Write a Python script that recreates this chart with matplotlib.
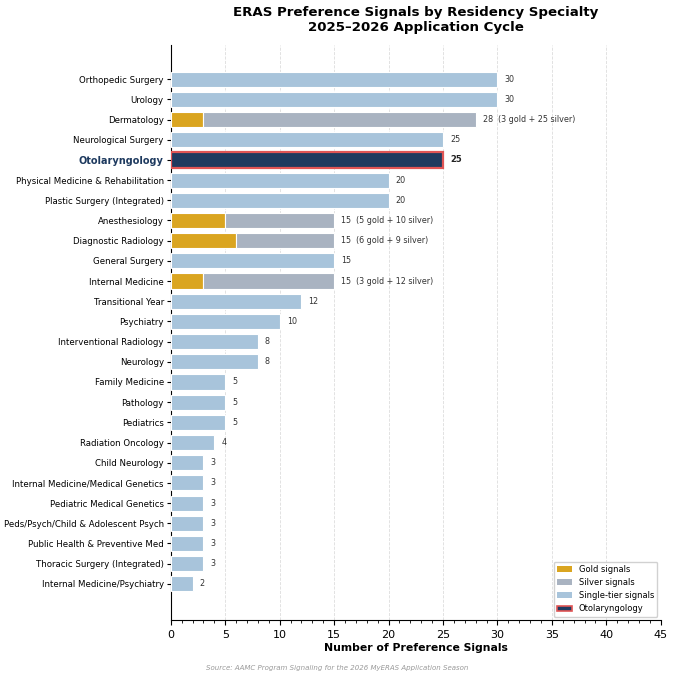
import matplotlib.pyplot as plt
from matplotlib.patches import Patch
from matplotlib.ticker import MultipleLocator
from matplotlib import font_manager

specialties = [
    "Orthopedic Surgery", "Urology", "Dermatology", "Neurological Surgery",
    "Otolaryngology", "Physical Medicine & Rehabilitation", "Plastic Surgery (Integrated)",
    "Anesthesiology", "Diagnostic Radiology", "General Surgery", "Internal Medicine",
    "Transitional Year", "Psychiatry", "Interventional Radiology", "Neurology",
    "Family Medicine", "Pathology", "Pediatrics", "Radiation Oncology",
    "Child Neurology", "Internal Medicine/Medical Genetics", "Pediatric Medical Genetics",
    "Peds/Psych/Child & Adolescent Psych", "Public Health & Preventive Med",
    "Thoracic Surgery (Integrated)", "Internal Medicine/Psychiatry",
]
totals = [30, 30, 28, 25, 25, 20, 20, 15, 15, 15, 15, 12, 10, 8, 8, 5, 5, 5, 4, 3, 3, 3, 3, 3, 3, 2]
gold = [0, 0, 3, 0, 0, 0, 0, 5, 6, 0, 3, 0, 0, 0, 0, 0, 0, 0, 0, 0, 0, 0, 0, 0, 0, 0]
silver = [0, 0, 25, 0, 0, 0, 0, 10, 9, 0, 12, 0, 0, 0, 0, 0, 0, 0, 0, 0, 0, 0, 0, 0, 0, 0]
highlight = "Otolaryngology"

GOLD = "#DAA520"
SILVER = "#A9B3C1"
SINGLE = "#A8C4DB"
OTO = "#1E3A5F"
RED = "#E05555"

names = sorted({f.name for f in font_manager.fontManager.ttflist if "DejaVu" in f.name})
print(names)

fig = plt.figure(figsize=(6.75, 6.8), dpi=100)
ax = fig.add_axes([0.253, 0.088, 0.726, 0.846])

h = 0.75
for i, name in enumerate(specialties):
    if name == highlight:
        ax.barh(i, totals[i], height=h, color=OTO, edgecolor=RED, linewidth=1.6, zorder=3)
        ax.text(totals[i] + 0.65, i, str(totals[i]), va="center", fontsize=6,
                fontweight="bold", color="#222222")
    elif gold[i] > 0:
        ax.barh(i, gold[i], height=h, color=GOLD, edgecolor="white", linewidth=0.8, zorder=3)
        ax.barh(i, silver[i], left=gold[i], height=h, color=SILVER, edgecolor="white",
                linewidth=0.8, zorder=3)
        ax.text(totals[i] + 0.65, i, f"{totals[i]}  ({gold[i]} gold + {silver[i]} silver)",
                va="center", fontsize=5.8, color="#333333")
    else:
        ax.barh(i, totals[i], height=h, color=SINGLE, edgecolor="white", linewidth=0.8, zorder=3)
        ax.text(totals[i] + 0.65, i, str(totals[i]), va="center", fontsize=5.8, color="#333333")

ax.set_yticks(range(len(specialties)))
ax.set_yticklabels(specialties, fontsize=6.2)
for lbl in ax.get_yticklabels():
    if lbl.get_text() == highlight:
        lbl.set_fontweight("bold")
        lbl.set_color(OTO)
        lbl.set_fontsize(7)

ax.set_ylim(len(specialties) + 0.8, -1.7)
ax.set_xlim(0, 45)
ax.xaxis.set_major_locator(MultipleLocator(5))
ax.xaxis.set_minor_locator(MultipleLocator(1))
ax.tick_params(axis="x", labelsize=8)
ax.tick_params(axis="y", length=3, pad=2)
ax.grid(axis="x", linestyle="--", color="#dddddd", linewidth=0.6, zorder=0)
for s in ["top", "right"]:
    ax.spines[s].set_visible(False)

ax.set_xlabel("Number of Preference Signals", fontsize=7.8, fontweight="bold", labelpad=2)
ax.set_title("ERAS Preference Signals by Residency Specialty\n2025\u20132026 Application Cycle",
             fontsize=9.6, fontweight="bold", pad=10)

handles = [
    Patch(facecolor=GOLD, label="Gold signals"),
    Patch(facecolor=SILVER, label="Silver signals"),
    Patch(facecolor=SINGLE, label="Single-tier signals"),
    Patch(facecolor=OTO, edgecolor=RED, linewidth=1.2, label="Otolaryngology"),
]
ax.legend(handles=handles, loc="lower right", fontsize=6, framealpha=0.9,
          handlelength=1.8, borderaxespad=0.4)

fig.text(0.5, 0.015, "Source: AAMC Program Signaling for the 2026 MyERAS Application Season",
         ha="center", fontsize=5, style="italic", color="#999999")

fig.savefig("out.png", dpi=100)
